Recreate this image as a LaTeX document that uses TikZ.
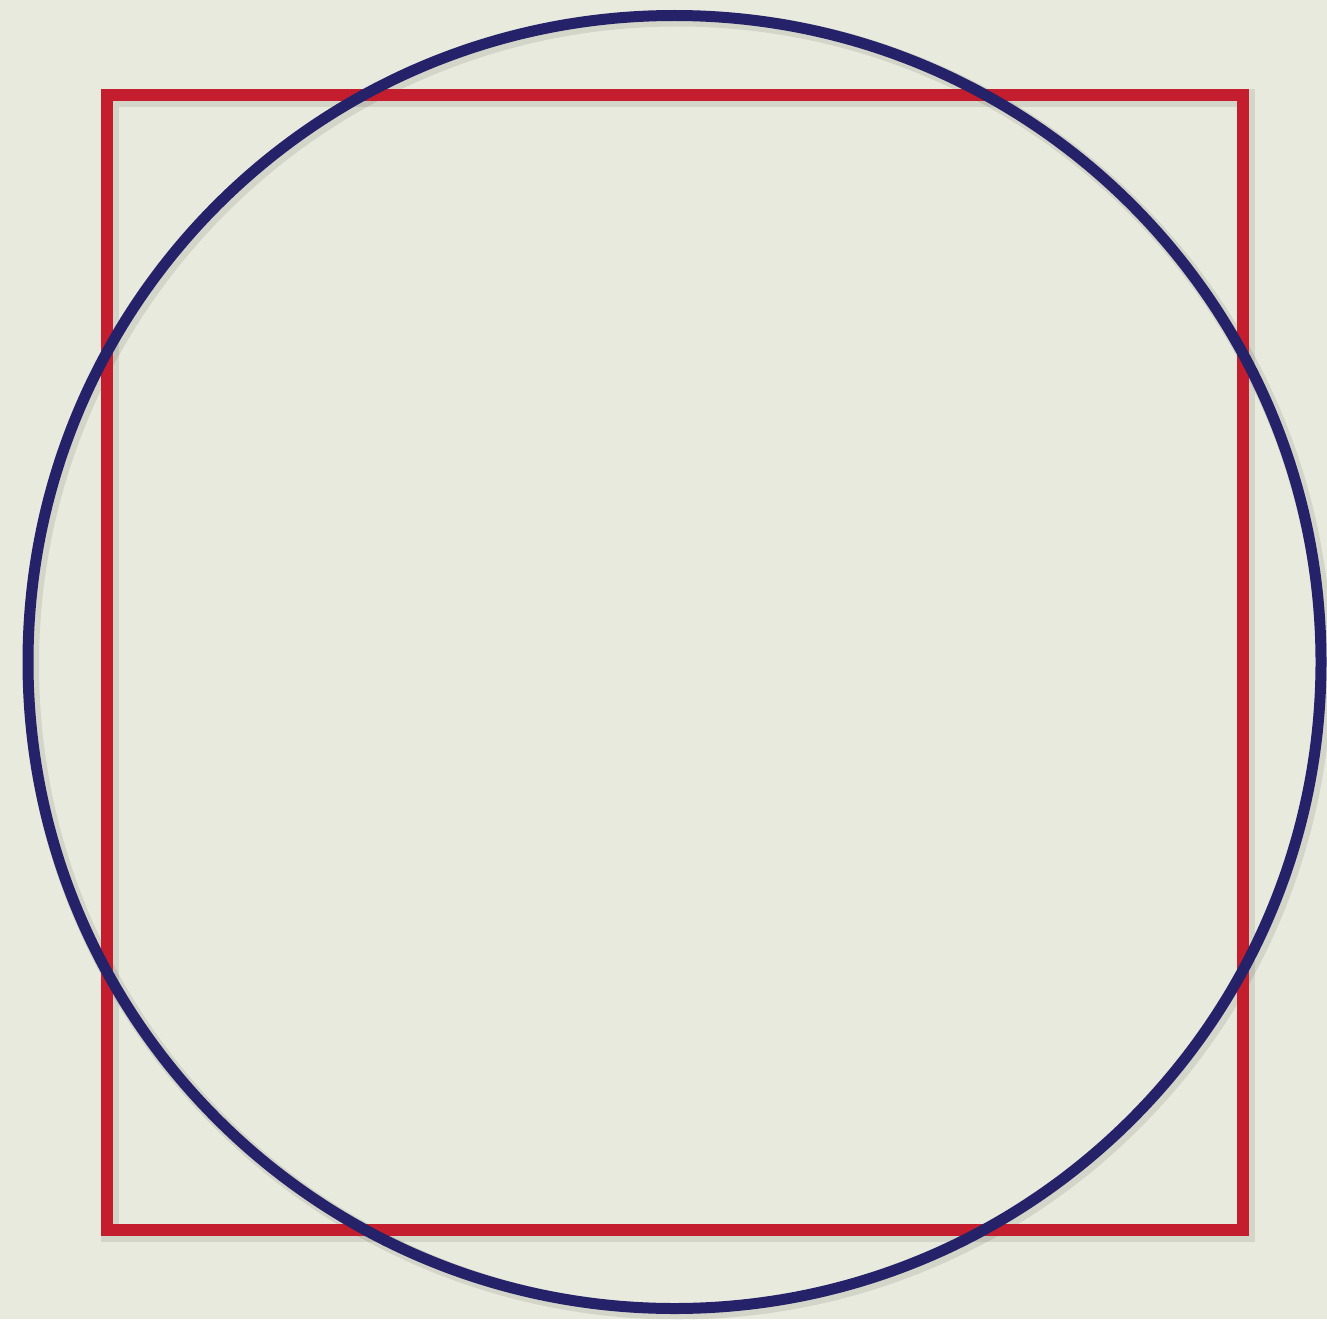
\documentclass[tikz,border=0pt]{standalone}
\definecolor{paper}{RGB}{232,234,222}
\definecolor{sqred}{RGB}{196,30,46}
\definecolor{cirblue}{RGB}{38,34,106}
\tikzset{
  shadowline/.style={draw=black!70!olive, opacity=0.12, line width=#1},
  sqline/.style={draw=sqred, line width=12pt},
  cirline/.style={draw=cirblue, line width=11pt},
}
\begin{document}
\begin{tikzpicture}[x=1pt,y=-1pt]
  \fill[paper] (0,0) rectangle (1327,1319);
  \useasboundingbox (0,0) rectangle (1327,1319);
  % soft shadows
  \draw[shadowline=18pt] (110,98) rectangle (1246,1233);
  \draw[shadowline=16pt] (677.5,665) circle[radius=646.5];
  % red square
  \draw[sqline] (106.7,94.7) rectangle (1243.3,1229.8);
  % blue circle
  \draw[cirline] (674.5,662) circle[radius=646.5];
\end{tikzpicture}
\end{document}
